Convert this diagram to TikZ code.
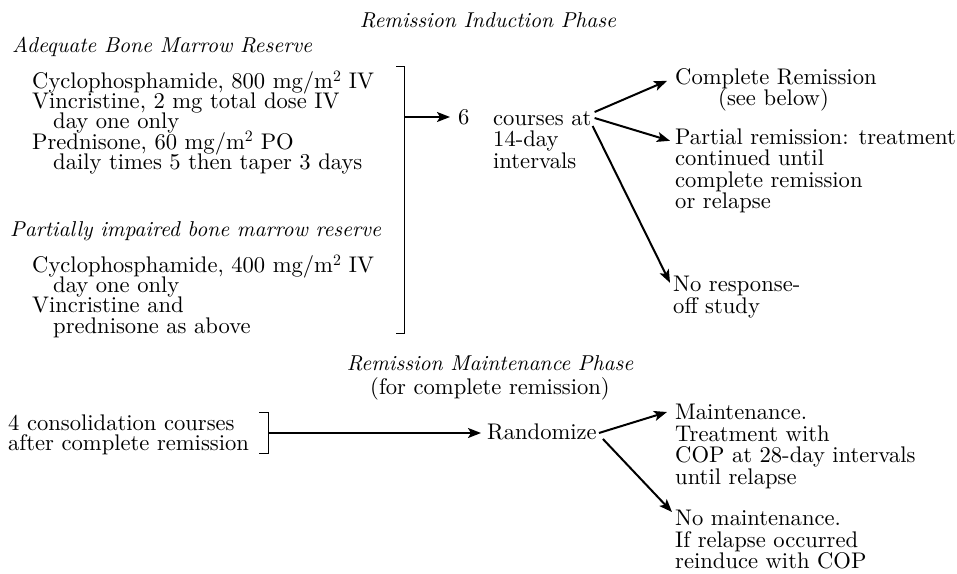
\documentclass[tikz,border=0pt]{standalone}
\usepackage{fontspec}
\setmainfont{lmroman10-regular.otf}[ItalicFont=lmroman10-italic.otf]
\usepackage{amsmath}
\usepackage{tikz}
\usetikzlibrary{arrows.meta}

\tikzset{
  txt/.style={inner sep=0pt, align=left, font={\fontsize{22.6}{20.2}\selectfont\lineskiplimit=-30pt\relax}},
  wide/.style={txt, font={\fontsize{22.6}{21.5}\selectfont\lineskiplimit=-30pt\relax}},
  head/.style={inner sep=0pt, font={\fontsize{21.5}{24}\selectfont\itshape\lineskiplimit=-30pt\relax}},
  arr/.style={line width=2pt, -{Stealth[length=13pt,width=10pt,inset=3pt]}},
  brack/.style={line width=1pt}
}

\begin{document}
\begin{tikzpicture}[x=1pt,y=-1pt]
\useasboundingbox (0,0) rectangle (957,573);

% induction phase
\node[head, anchor=base] (rip) at (488,27) {Remission Induction Phase};
\node[head, anchor=base west] (abmr) at (12,52.5) {Adequate Bone Marrow Reserve};
\node[txt, anchor=north west] (rega) at (32,70.3) {Cyclophosphamide, 800 mg/m\textsuperscript{2} IV\\
  Vincristine, 2 mg total dose IV\\
  \hspace*{21pt}day one only\\
  Prednisone, 60 mg/m\textsuperscript{2} PO\\
  \hspace*{21pt}daily times 5 then taper 3 days};
\node[head, anchor=base west] (pibmr) at (10,236.5) {Partially impaired bone marrow reserve};
\node[txt, anchor=north west] (regb) at (32,254.3) {Cyclophosphamide, 400 mg/m\textsuperscript{2} IV\\
  \hspace*{21pt}day one only\\
  Vincristine and\\
  \hspace*{21pt}prednisone as above};

\coordinate (brat) at (404,66);
\coordinate (brab) at (404,333);
\draw[brack] ([xshift=-8pt]brat) -- (brat) -- (brab) -- ([xshift=-8pt]brab);

\node[txt, anchor=base west] (six) at (458,124) {6};
\path (six.base west) ++(0,-7) coordinate (sixm);
\draw[arr] (brat |- sixm) -- ([xshift=-8pt]sixm);

\node[wide, anchor=north west] (cours) at (493,111) {courses at\\14-day\\intervals};

\node[wide, anchor=north west] (cr) at (675,68.3) {Complete Remission\\
  \hspace*{43pt}(see below)};
\node[wide, anchor=north west] (pr) at (675,128.3) {Partial remission: treatment\\
  continued until\\
  complete remission\\
  or relapse};
\node[wide, anchor=north west] (nr) at (673,276.3) {No response-\\off study};

\draw[arr] ([shift={(3pt,-1pt)}]cours.north east) -- ([shift={(-8pt,-12.5pt)}]cr.north west);
\draw[arr] ([shift={(3pt,-7pt)}]cours.north east) -- ([shift={(-5pt,-12.5pt)}]pr.north west);
\draw[arr] ([shift={(1pt,-15pt)}]cours.north east) -- ([shift={(-3pt,-6.5pt)}]nr.north west);

% maintenance phase
\node[head, align=center, anchor=north] (rmp) at (490,355.1) {Remission Maintenance Phase\\
  \fontsize{22.6}{24}\selectfont\upshape (for complete remission)};

\node[txt, anchor=north west] (cons) at (8,414.3) {4 consolidation courses\\after complete remission};
\coordinate (brbt) at (268,412);
\coordinate (brbb) at (268,453);
\draw[brack] ([xshift=-9pt]brbt) -- (brbt) -- (brbb) -- ([xshift=-9pt]brbb);

\node[txt, anchor=base west] (rand) at (487,439) {Randomize};
\path (rand.base west) ++(0,-6) coordinate (randm);
\draw[arr] (brbt |- randm) -- ([xshift=-6pt]randm);

\node[wide, anchor=north west] (maint) at (675,404.3) {Maintenance.\\
  Treatment with\\
  COP at 28-day intervals\\
  until relapse};
\node[wide, anchor=north west] (nomaint) at (675,510.3) {No maintenance.\\
  If relapse occurred\\
  reinduce with COP};

\draw[arr] ([shift={(2pt,6pt)}]rand.base east) -- ([shift={(-8pt,-7.7pt)}]maint.north west);
\draw[arr] ([shift={(6pt,0pt)}]rand.base east) -- ([shift={(-3pt,-1.7pt)}]nomaint.north west);
\end{tikzpicture}
\end{document}
